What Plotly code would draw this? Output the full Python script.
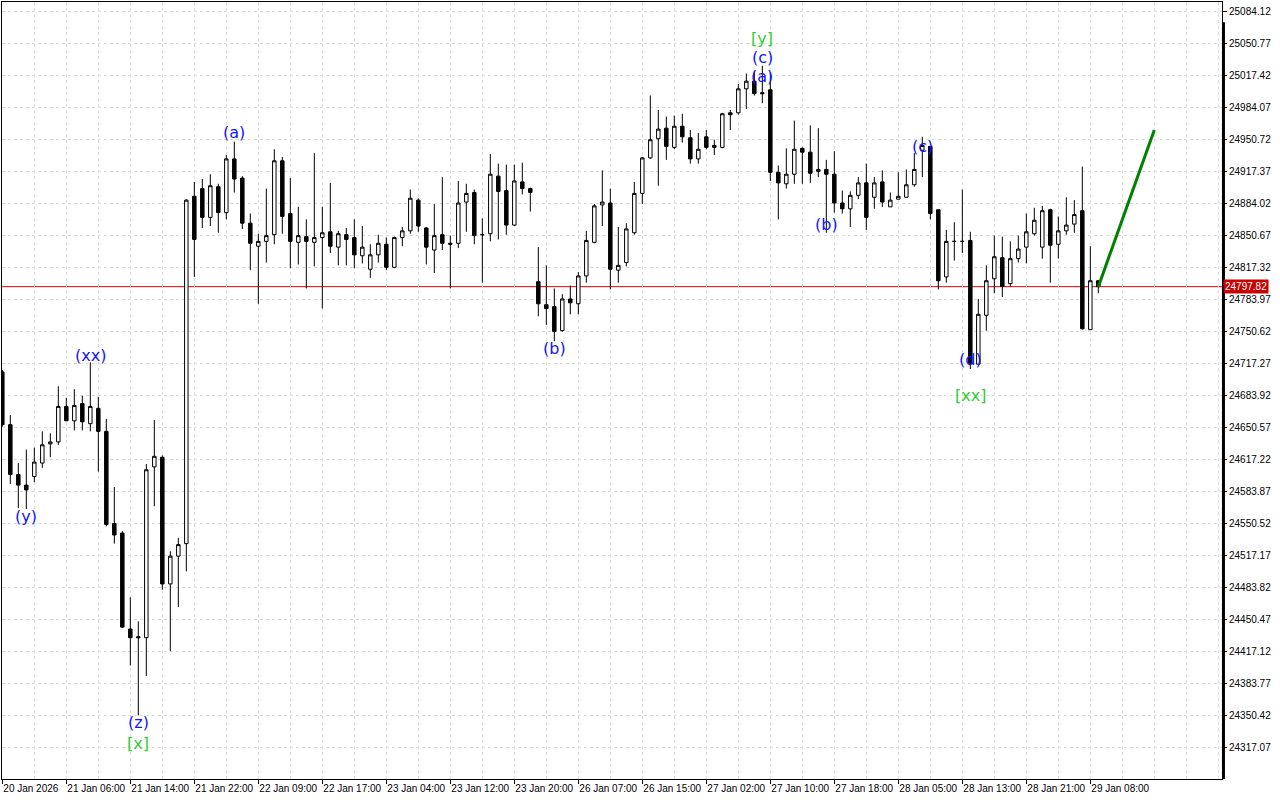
import plotly.graph_objects as go

# ---------------- data (hourly bars) ----------------
open_ = [24709, 24654, 24602, 24591, 24600, 24614, 24634, 24636, 24673, 24658,
         24676, 24655, 24671, 24647, 24551, 24541, 24441, 24433, 24432, 24610,
         24620, 24488, 24517, 24530, 24892, 24900, 24870, 24902, 24875, 24931,
         24911, 24864, 24840, 24845, 24852, 24929, 24874, 24844, 24850, 24844,
         24849, 24855, 24839, 24852, 24849, 24830, 24816, 24831, 24842, 24818,
         24849, 24856, 24888, 24859, 24836, 24852, 24843, 24843, 24886, 24896,
         24852, 24853, 24913, 24898, 24862, 24907, 24900, 24803, 24779, 24777,
         24752, 24785, 24780, 24809, 24844, 24883, 24885, 24815, 24823, 24854,
         24895, 24932, 24952, 24963, 24943, 24965, 24953, 24931, 24954, 24945,
         24943, 24979, 24979, 25004, 25012, 25000, 25003, 24917, 24905, 24915,
         24942, 24938, 24918, 24920, 24915, 24885, 24879, 24893, 24906, 24891,
         24907, 24881, 24889, 24891, 24904, 24940, 24944, 24878, 24808, 24845,
         24845, 24846, 24717, 24768, 24806, 24828, 24801, 24827, 24839, 24853,
         24839, 24878, 24842, 24856, 24863, 24877, 24753, 24804]
high = [24711, 24664, 24614, 24628, 24630, 24647, 24645, 24694, 24682, 24691,
        24684, 24719, 24683, 24660, 24589, 24543, 24474, 24449, 24613, 24659,
        24622, 24522, 24536, 24889, 24907, 24910, 24915, 24905, 24935, 24949,
        24913, 24874, 24853, 24900, 24941, 24933, 24911, 24881, 24868, 24937,
        24881, 24906, 24856, 24859, 24868, 24861, 24842, 24852, 24849, 24850,
        24860, 24899, 24890, 24860, 24884, 24912, 24851, 24908, 24905, 24899,
        24869, 24936, 24926, 24925, 24925, 24927, 24901, 24839, 24820, 24796,
        24790, 24799, 24813, 24856, 24884, 24919, 24900, 24860, 24864, 24907,
        24933, 24997, 24982, 24975, 24976, 24978, 24961, 24958, 24961, 24951,
        24979, 24982, 25009, 25020, 25023, 25028, 25021, 24924, 24942, 24971,
        24943, 24966, 24963, 24930, 24939, 24898, 24897, 24912, 24926, 24912,
        24919, 24896, 24917, 24920, 24937, 24954, 24944, 24878, 24857, 24865,
        24899, 24855, 24785, 24820, 24851, 24850, 24845, 24851, 24874, 24880,
        24882, 24879, 24871, 24891, 24888, 24923, 24840, 24804]
low = [24652, 24592, 24567, 24566, 24594, 24609, 24620, 24633, 24658, 24648,
       24648, 24647, 24605, 24548, 24530, 24442, 24403, 24351, 24392, 24569,
       24482, 24418, 24464, 24501, 24808, 24859, 24861, 24854, 24868, 24896,
       24858, 24815, 24780, 24823, 24842, 24853, 24817, 24821, 24796, 24819,
       24775, 24833, 24820, 24820, 24817, 24822, 24807, 24823, 24815, 24817,
       24840, 24853, 24855, 24821, 24812, 24836, 24796, 24838, 24855, 24842,
       24802, 24845, 24847, 24852, 24861, 24894, 24876, 24767, 24758, 24741,
       24751, 24769, 24769, 24802, 24843, 24861, 24795, 24802, 24819, 24852,
       24884, 24931, 24903, 24930, 24941, 24948, 24926, 24926, 24941, 24935,
       24942, 24961, 24977, 24983, 24997, 24989, 24908, 24868, 24900, 24905,
       24905, 24906, 24912, 24854, 24875, 24874, 24860, 24889, 24857, 24879,
       24881, 24881, 24889, 24891, 24902, 24912, 24868, 24795, 24802, 24825,
       24833, 24712, 24717, 24752, 24791, 24787, 24798, 24823, 24822, 24851,
       24827, 24802, 24827, 24852, 24854, 24753, 24753, 24791]
close = [24654, 24602, 24591, 24586, 24615, 24633, 24636, 24673, 24658, 24674,
         24657, 24673, 24647, 24550, 24539, 24443, 24432, 24432, 24607, 24621,
         24488, 24517, 24529, 24888, 24847, 24870, 24903, 24875, 24931, 24910,
         24864, 24843, 24845, 24851, 24929, 24871, 24845, 24851, 24845, 24849,
         24854, 24840, 24853, 24847, 24831, 24839, 24831, 24843, 24818, 24849,
         24856, 24890, 24861, 24839, 24851, 24843, 24842, 24885, 24895, 24851,
         24852, 24915, 24897, 24862, 24908, 24900, 24896, 24780, 24775, 24751,
         24785, 24781, 24809, 24846, 24882, 24886, 24816, 24820, 24858, 24895,
         24932, 24951, 24962, 24944, 24965, 24954, 24931, 24941, 24943, 24943,
         24978, 24977, 25004, 25012, 24999, 24999, 24917, 24906, 24915, 24941,
         24938, 24916, 24920, 24915, 24885, 24879, 24893, 24906, 24870, 24906,
         24886, 24888, 24892, 24904, 24920, 24945, 24874, 24804, 24845, 24845,
         24845, 24718, 24769, 24804, 24829, 24798, 24827, 24837, 24855, 24867,
         24877, 24841, 24856, 24862, 24873, 24754, 24804, 24797.82]
bars = list(range(len(open_)))

x_tick_bars = [0, 8, 16, 24, 32, 40, 48, 56, 64, 72, 80, 88, 96, 104, 112, 120, 128, 136]
x_tick_labels = ["20 Jan 2026", "21 Jan 06:00", "21 Jan 14:00", "21 Jan 22:00",
                 "22 Jan 09:00", "22 Jan 17:00", "23 Jan 04:00", "23 Jan 12:00",
                 "23 Jan 20:00", "26 Jan 07:00", "26 Jan 15:00", "27 Jan 02:00",
                 "27 Jan 10:00", "27 Jan 18:00", "28 Jan 05:00", "28 Jan 13:00",
                 "28 Jan 21:00", "29 Jan 08:00"]
y_tick_labels = ["25084.12", "25050.77", "25017.42", "24984.07", "24950.72", "24917.37",
                 "24884.02", "24850.67", "24817.32", "24783.97", "24750.62", "24717.27",
                 "24683.92", "24650.57", "24617.22", "24583.87", "24550.52", "24517.17",
                 "24483.82", "24450.47", "24417.12", "24383.77", "24350.42", "24317.07"]

last_price = 24797.82
forecast_bars = [137, 144]
forecast_prices = [24797.82, 24961]

wave_texts = ["(xx)", "(y)", "(z)", "[x]", "(a)", "(b)", "[y]", "(c)", "(a)",
              "(b)", "(c)", "(d)", "[xx]"]
wave_bars = [11, 3, 17, 17, 29, 69, 95, 95, 95, 103, 115, 121, 121]
wave_prices = [24726.6, 24557.8, 24343.1, 24322.2, 24958.0, 24732.9, 25056.0,
               25036.2, 25016.4, 24863.1, 24944.4, 24722.4, 24684.9]
wave_colors = ["#1414ff", "#1414ff", "#1414ff", "#32cd32", "#1414ff", "#1414ff",
               "#32cd32", "#1414ff", "#1414ff", "#1414ff", "#1414ff", "#1414ff", "#32cd32"]

Y_RANGE = [24284.7, 25094.5]
X_RANGE = [-0.04, 152.46]

# ---------------- figure ----------------
fig = go.Figure()

fig.add_trace(go.Candlestick(
    x=bars, open=open_, high=high, low=low, close=close,
    increasing=dict(line=dict(color="black", width=1), fillcolor="white"),
    decreasing=dict(line=dict(color="black", width=1), fillcolor="black"),
    whiskerwidth=0, showlegend=False, hoverinfo="skip",
))

fig.add_trace(go.Scatter(
    x=forecast_bars, y=forecast_prices, mode="lines",
    line=dict(color="#008000", width=3), showlegend=False, hoverinfo="skip",
))

fig.add_hline(y=last_price, line=dict(color="#e00000", width=1), layer="below")

for t, b, p, c in zip(wave_texts, wave_bars, wave_prices, wave_colors):
    fig.add_annotation(x=b, y=p, text=t, showarrow=False,
                       font=dict(family="DejaVu Sans", size=16, color=c),
                       xanchor="center", yanchor="middle")

# current price tag
fig.add_annotation(x=1, xref="paper", y=last_price, yref="y",
                   text=f"{last_price:.2f}", showarrow=False,
                   xanchor="left", yanchor="middle", xshift=1,
                   font=dict(family="Liberation Sans", size=10, color="white"),
                   bgcolor="#c80000", borderpad=1)

# frame shadow on the right edge
fig.add_shape(type="line", xref="paper", yref="paper", x0=1.0012, x1=1.0012,
              y0=0, y1=0.974, line=dict(color="black", width=3))

grid_col = "#dcdcdc"
fig.update_layout(
    width=1280, height=800,
    margin=dict(l=2, r=58, t=2, b=21, autoexpand=False),
    paper_bgcolor="white", plot_bgcolor="white",
    boxgap=0.38,
    font=dict(family="Liberation Sans", size=10, color="black"),
    xaxis=dict(
        range=X_RANGE, rangeslider=dict(visible=False), automargin=False,
        tickmode="array", tickvals=x_tick_bars, ticktext=x_tick_labels,
        tickangle=0, ticklabelposition="outside right",
        ticks="outside", ticklen=4, tickcolor="black",
        showgrid=True, gridcolor=grid_col, griddash="3px,3px", gridwidth=1,
        minor=dict(tickmode="linear", tick0=0, dtick=4, showgrid=True,
                   gridcolor=grid_col, griddash="3px,3px", gridwidth=1),
        showline=True, linecolor="black", linewidth=1, mirror=True,
        zeroline=False, fixedrange=True,
        tickfont=dict(family="Liberation Sans", size=10, color="black"),
    ),
    yaxis=dict(
        range=Y_RANGE, side="right", automargin=False,
        tickmode="array", tickvals=[float(v) for v in y_tick_labels], ticktext=y_tick_labels,
        ticks="outside", ticklen=4, tickcolor="black",
        showgrid=True, gridcolor=grid_col, griddash="3px,3px", gridwidth=1,
        showline=True, linecolor="black", linewidth=1, mirror=True,
        zeroline=False, fixedrange=True,
        tickfont=dict(family="Liberation Sans", size=10, color="black"),
    ),
)

fig.write_html("out.html", config={"displayModeBar": False},
               post_script="document.body.style.margin='0';document.body.style.overflow='hidden';")
